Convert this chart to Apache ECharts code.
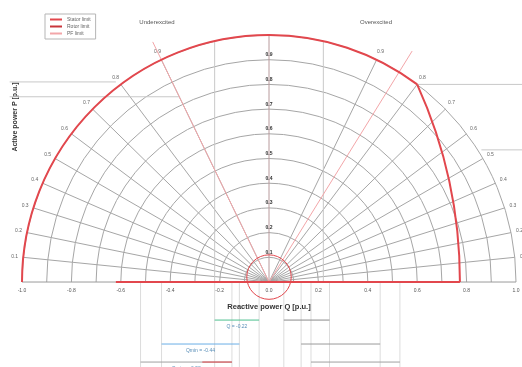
<!DOCTYPE html>
<html>
<head>
<meta charset="utf-8">
<script src="https://cdn.jsdelivr.net/npm/echarts@6/dist/echarts.min.js"></script>
<style>
  html, body { margin: 0; padding: 0; background: #fff; }
  #chart { width: 522px; height: 367px; }
</style>
</head>
<body>
<div id="chart"></div>
<script>
// ---- data (per unit) ----
const qTicks = [-1.0, -0.8, -0.6, -0.4, -0.2, 0.0, 0.2, 0.4, 0.6, 0.8, 1.0];
const gridRadii = [0.1, 0.2, 0.3, 0.4, 0.5, 0.6, 0.7, 0.8, 0.9, 1.0];
const pfValues = [0.1, 0.2, 0.3, 0.4, 0.5, 0.6, 0.7, 0.8, 0.9];
const pfLimitLead = 0.9;   // underexcited side
const pfLimitLag = 0.85;   // overexcited side
const statorLimit = 1.0;
const cornerPoint = [0.6, 0.8];        // stator / rotor limit meet
const rotorLimitQ0 = 0.773;            // rotor limit at P = 0
const rotorCentreQ = -1.16;            // centre of rotor limit arc
const redAxisFrom = -0.62;
const minExcCentre = [0, 0.02];
const minExcRadius = 0.09;
const auxVertQ = [-0.22, 0.22];
const auxHorizP = [0.81, 0.75, 0.8, 0.535];
const auxHorizQ1 = [-1.05, -1.05, 0.6, 0.86];
const auxHorizQ2 = [-0.62, -0.36, 1.03, 1.03];
const annQ1 = [-0.22, 0.06, -0.435, 0.13, -0.52, 0.17];
const annQ2 = [-0.04, 0.245, -0.12, 0.45, -0.15, 0.53];
const annP = [-0.154, -0.154, -0.251, -0.251, -0.324, -0.324];
const annText = ['Q = -0.22', '', 'Qmin = -0.44', '', 'Qmin = -0.52', ''];
const annColor = ['#4cbf8f', '#8a8a8a', '#6aaee6', '#9a9a9a', '#a0a0a0', '#a0a0a0'];

const FONT = 'Liberation Sans, Arial, sans-serif';
const GREY = '#a6a6a6';
const RED = '#e2474d';
const PINK = '#f3a6a9';
const D2R = Math.PI / 180;
const P_MIN = -0.344, P_MAX = 1.1417;

// arcs: [cq, cp, r, a0, a1] in degrees, counter clockwise from +Q
function arcRender(color, width) {
  return function (params, api) {
    const c = api.coord([api.value(0), api.value(1)]);
    const r = api.size([api.value(2), 0])[0];
    return {
      type: 'arc',
      shape: { cx: c[0], cy: c[1], r: r, startAngle: -api.value(4) * D2R, endAngle: -api.value(3) * D2R, clockwise: true },
      style: { stroke: color, fill: null, lineWidth: width }
    };
  };
}
// segments: [q1, p1, q2, p2]
function segRender(colors, width) {
  return function (params, api) {
    const a = api.coord([api.value(0), api.value(1)]);
    const b = api.coord([api.value(2), api.value(3)]);
    const col = Array.isArray(colors) ? colors[params.dataIndex] : colors;
    return {
      type: 'line',
      shape: { x1: a[0], y1: a[1], x2: b[0], y2: b[1] },
      style: { stroke: col, lineWidth: width }
    };
  };
}
// text: [q, p], text taken from list
function textRender(list, size, color, weight) {
  return function (params, api) {
    const a = api.coord([api.value(0), api.value(1)]);
    return {
      type: 'text', x: a[0], y: a[1],
      style: { text: list[params.dataIndex], fontSize: size, fontWeight: weight || 'normal', fontFamily: FONT, fill: color, align: 'center', verticalAlign: 'middle' }
    };
  };
}

const pfLines = [];
const pfLabelPos = [];
const pfLabelText = [];
pfValues.forEach(function (pf) {
  const s = Math.sqrt(1 - pf * pf);
  pfLines.push([0, 0, -s, pf], [0, 0, s, pf]);
  pfLabelPos.push([-s * 1.035, pf * 1.035], [s * 1.035, pf * 1.035]);
  pfLabelText.push(pf.toFixed(1), pf.toFixed(1));
});

const pfLimitLines = [
  [0, 0, -Math.sqrt(1 - pfLimitLead * pfLimitLead) * 1.08, pfLimitLead * 1.08],
  [0, 0, Math.sqrt(1 - pfLimitLag * pfLimitLag) * 1.1, pfLimitLag * 1.1]
];

const cornerAngle = Math.atan2(cornerPoint[1], cornerPoint[0]) / D2R;
const rotorRadius = rotorLimitQ0 - rotorCentreQ;
const rotorAngle = Math.atan2(cornerPoint[1], cornerPoint[0] - rotorCentreQ) / D2R;

const auxLines = auxVertQ.map(function (q) { return [q, 0, q, Math.sqrt(1 - q * q)]; })
  .concat(auxHorizP.map(function (p, i) { return [auxHorizQ1[i], p, auxHorizQ2[i], p]; }));

const dropLines = [];
annQ1.forEach(function (q, i) {
  dropLines.push([q, 0, q, P_MIN], [annQ2[i], 0, annQ2[i], P_MIN]);
});
const annLines = annQ1.map(function (q, i) { return [q, annP[i], annQ2[i], annP[i]]; });
const annTextPos = annQ1.map(function (q, i) { return [(q + annQ2[i]) / 2, annP[i] - 0.025]; });

// Q axis: line, tick labels and name drawn on the P = 0 line
const qAxisLine = [[qTicks[0], 0, qTicks[qTicks.length - 1], 0]];
const qTickLabels = qTicks.map(function (q) { return q.toFixed(1); });
const qTickPos = qTicks.map(function (q) { return [q, -0.034]; });

const chart = echarts.init(document.getElementById('chart'));
chart.setOption({
  animation: false,
  backgroundColor: '#fff',
  grid: { left: 22, right: 6, top: 0, bottom: 0, containLabel: false, outerBoundsMode: 'none' },
  legend: {
    left: 45, top: 14, orient: 'vertical',
    borderColor: '#b5b5b5', borderWidth: 1, padding: [3, 5],
    itemGap: 2, itemWidth: 12, itemHeight: 2,
    textStyle: { fontSize: 5, fontFamily: FONT, color: '#666' },
    data: [
      { name: 'Stator limit', icon: 'rect' },
      { name: 'Rotor limit', icon: 'rect' },
      { name: 'PF limit', icon: 'rect' }
    ]
  },
  xAxis: { type: 'value', min: -1, max: 1, interval: 0.2, show: false },
  yAxis: { type: 'value', min: P_MIN, max: P_MAX, show: false },
  graphic: [
    { type: 'text', x: 157, y: 22, style: { text: 'Underexcited', fontSize: 6, fontFamily: FONT, fill: '#555', align: 'center', verticalAlign: 'middle' } },
    { type: 'text', x: 376, y: 22, style: { text: 'Overexcited', fontSize: 6, fontFamily: FONT, fill: '#555', align: 'center', verticalAlign: 'middle' } },
    { type: 'text', x: 15, y: 117, rotation: Math.PI / 2, style: { text: 'Active power P [p.u.]', fontSize: 7, fontWeight: 'bold', fontFamily: FONT, fill: '#333', align: 'center', verticalAlign: 'middle' } }
  ],
  series: [
    { type: 'custom', silent: true, renderItem: segRender('#dcdcdc', 1), data: dropLines, z: 1 },
    { type: 'custom', silent: true, renderItem: arcRender(GREY, 1), data: gridRadii.map(function (r) { return [0, 0, r, 0, 180]; }), z: 2 },
    { type: 'custom', silent: true, renderItem: segRender(GREY, 1), data: pfLines, z: 2 },
    { type: 'custom', silent: true, renderItem: segRender('#c8c8c8', 1), data: auxLines, z: 2 },
    { type: 'custom', silent: true, renderItem: segRender('#9a9a9a', 1), data: qAxisLine, z: 3 },
    { type: 'custom', silent: true, renderItem: segRender('#b89a9c', 1), data: [[0, 0, 0, statorLimit]], z: 3 },
    { type: 'custom', silent: true, renderItem: textRender(qTickLabels, 5, '#555'), data: qTickPos, z: 4 },
    { type: 'custom', silent: true, renderItem: textRender(['Reactive power Q [p.u.]'], 7.5, '#333', 'bold'), data: [[0, -0.1]], z: 4 },
    { type: 'custom', silent: true, renderItem: textRender(pfLabelText, 5, '#666'), data: pfLabelPos, z: 4 },
    { type: 'custom', silent: true, renderItem: textRender(gridRadii.slice(0, 9).map(function (r) { return r.toFixed(1); }), 5, '#333', 'bold'),
      data: gridRadii.slice(0, 9).map(function (r) { return [0, r + 0.02]; }), z: 4 },
    { type: 'custom', silent: true, renderItem: segRender(annColor, 1), data: annLines, z: 4 },
    { type: 'custom', silent: true, renderItem: segRender(RED, 1), data: [[-0.27, -0.324, -0.15, -0.324]], z: 5 },
    { type: 'custom', silent: true, renderItem: textRender(annText, 5, '#5a8fb8'), data: annTextPos, z: 4 },
    { name: 'PF limit', type: 'custom', silent: true, itemStyle: { color: PINK }, renderItem: segRender(PINK, 1), data: pfLimitLines, z: 5 },
    { type: 'custom', silent: true, renderItem: arcRender(RED, 1), data: [[minExcCentre[0], minExcCentre[1], minExcRadius, 0, 360]], z: 6 },
    { name: 'Stator limit', type: 'custom', silent: true, itemStyle: { color: RED },
      renderItem: arcRender(RED, 2), data: [[0, 0, statorLimit, cornerAngle, 180]], z: 7 },
    { name: 'Rotor limit', type: 'custom', silent: true, itemStyle: { color: '#c9353b' },
      renderItem: arcRender(RED, 2), data: [[rotorCentreQ, 0, rotorRadius, 0, rotorAngle]], z: 7 },
    { type: 'custom', silent: true, renderItem: segRender(RED, 2), data: [[redAxisFrom, 0, rotorLimitQ0, 0]], z: 7 }
  ]
});
</script>
</body>
</html>
